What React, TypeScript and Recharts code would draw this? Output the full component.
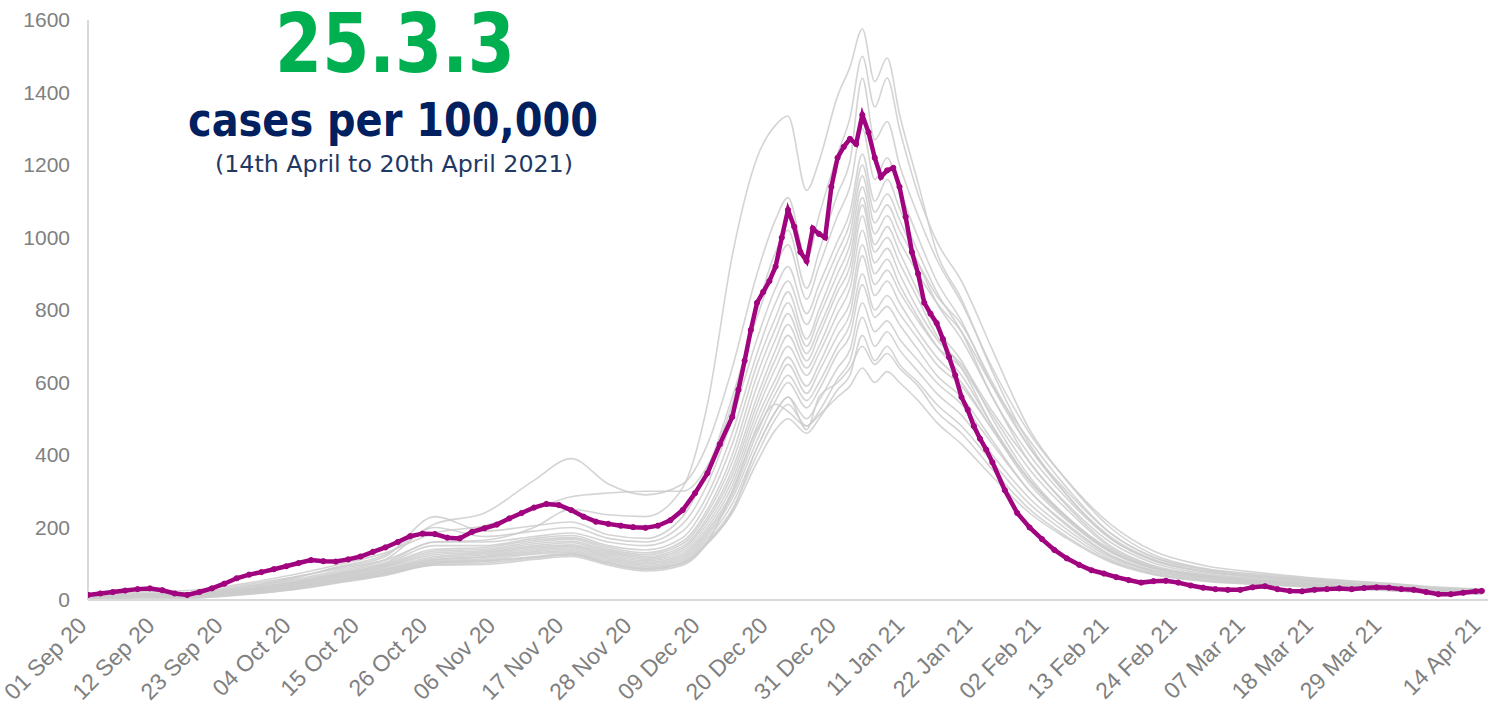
import { LineChart, Line, XAxis, YAxis } from 'recharts';

// tick days counted from 01 Sep 2020
const tickDays = [0, 11, 22, 33, 44, 55, 66, 77, 88, 99, 110, 121, 132, 143, 154, 165, 176, 187, 198, 209, 225];
const tickLabels = [
  '01 Sep 20', '12 Sep 20', '23 Sep 20', '04 Oct 20', '15 Oct 20', '26 Oct 20', '06 Nov 20',
  '17 Nov 20', '28 Nov 20', '09 Dec 20', '20 Dec 20', '31 Dec 20', '11 Jan 21', '22 Jan 21',
  '02 Feb 21', '13 Feb 21', '24 Feb 21', '07 Mar 21', '18 Mar 21', '29 Mar 21', '14 Apr 21',
];
const yTicks = [0, 200, 400, 600, 800, 1000, 1200, 1400, 1600];

// highlighted area
const areaDays = [
  0, 2, 4, 6, 8, 10, 12, 14, 16, 18, 20, 22, 24, 26, 28, 30, 32, 34, 36, 38, 40, 42, 44, 46, 48, 50,
  52, 54, 56, 58, 60, 62, 64, 66, 68, 70, 72, 74, 76, 78, 80, 82, 84, 86, 88, 90, 92, 94, 96, 98, 100,
  102, 104, 105, 106, 107, 108, 109, 110, 111, 112, 113, 114, 115, 116, 117, 118, 119, 120, 121, 122,
  123, 124, 125, 126, 127, 128, 129, 130, 131, 132, 133, 134, 135, 136, 137, 138, 139, 140, 141, 142,
  143, 144, 145, 146, 148, 150, 152, 154, 156, 158, 160, 162, 164, 166, 168, 170, 172, 174, 176, 178,
  180, 182, 184, 186, 188, 190, 192, 194, 196, 198, 200, 202, 204, 206, 208, 210, 212, 214, 216, 218,
  220, 222, 224, 225,
];
const areaRates = [
  14, 18, 22, 26, 30, 32, 27, 18, 14, 22, 32, 45, 60, 70, 77, 85, 93, 102, 110, 107, 106, 112, 120, 133, 145, 160,
  176, 183, 182, 172, 170, 188, 198, 208, 225, 240, 255, 265, 262, 248, 230, 216, 210, 205, 201, 199, 205, 220, 248, 295, 350,
  430, 505, 580, 660, 745, 820, 850, 880, 920, 1000, 1076, 1030, 960, 935, 1025, 1010, 1000, 1140, 1220, 1250,
  1272, 1258, 1338, 1290, 1220, 1167, 1185, 1192, 1140, 1057, 960, 900, 820, 790, 764, 720, 670, 620, 560, 525,
  480, 445, 415, 380, 303, 240, 200, 168, 138, 115, 97, 82, 73, 63, 55, 48, 52, 53, 48, 40,
  34, 30, 28, 28, 35, 38, 30, 25, 24, 28, 30, 32, 30, 33, 35, 34, 30, 28, 22, 16,
  16, 20, 24, 25,
];

// comparison areas, sampled on these days
const otherDays = [0, 8, 16, 24, 32, 40, 48, 56, 64, 72, 78, 84, 90, 96, 100, 104, 108, 111, 113, 116, 118, 121, 123, 125, 127, 129, 131, 134, 137, 141, 146, 152, 158, 165, 172, 180, 190, 200, 210, 218, 225];
const other1 = [10, 16, 18, 38, 60, 85, 110, 160, 165, 200, 250, 235, 230, 310, 540, 950, 1220, 1310, 1335, 1130, 1210, 1390, 1470, 1575, 1430, 1495, 1340, 1150, 960, 830, 630, 430, 290, 170, 110, 80, 62, 50, 40, 30, 27];
const other2 = [8, 14, 16, 32, 55, 90, 125, 210, 240, 330, 390, 320, 290, 320, 430, 640, 900, 1050, 1110, 940, 1060, 1230, 1330, 1500, 1360, 1440, 1300, 1120, 990, 880, 690, 470, 330, 200, 125, 88, 70, 56, 44, 34, 29];
const other3 = [12, 22, 26, 42, 66, 96, 130, 185, 205, 250, 285, 295, 300, 300, 370, 540, 800, 960, 1020, 860, 960, 1120, 1210, 1440, 1270, 1320, 1200, 1060, 940, 820, 640, 460, 330, 210, 135, 96, 74, 58, 46, 36, 30];
const other4 = [9, 18, 20, 34, 58, 88, 120, 230, 190, 205, 215, 180, 170, 230, 360, 560, 780, 920, 980, 830, 920, 1060, 1140, 1300, 1160, 1220, 1130, 1000, 880, 770, 590, 420, 300, 185, 118, 85, 66, 52, 40, 31, 26];
const other5 = [7, 15, 15, 30, 52, 80, 112, 200, 175, 190, 200, 170, 160, 210, 320, 500, 720, 860, 920, 790, 870, 990, 1070, 1230, 1100, 1160, 1080, 960, 850, 740, 560, 400, 280, 170, 108, 78, 62, 48, 38, 28, 24];
const other6 = [8, 13, 14, 27, 48, 76, 104, 160, 160, 175, 185, 160, 150, 190, 290, 460, 680, 820, 880, 760, 840, 960, 1040, 1200, 1070, 1120, 1050, 930, 820, 720, 560, 380, 265, 160, 102, 74, 58, 46, 36, 27, 23];
const other7 = [6, 12, 13, 26, 46, 72, 100, 150, 150, 170, 178, 150, 138, 172, 270, 430, 650, 780, 850, 720, 800, 930, 1010, 1170, 1040, 1090, 1020, 930, 840, 760, 600, 420, 290, 175, 112, 80, 62, 48, 38, 28, 23];
const other8 = [7, 14, 12, 25, 44, 70, 98, 140, 145, 165, 172, 145, 130, 162, 250, 400, 620, 750, 820, 700, 780, 900, 980, 1140, 1010, 1060, 990, 900, 820, 740, 590, 440, 310, 185, 118, 85, 66, 52, 40, 30, 24];
const other9 = [6, 11, 11, 24, 42, 68, 95, 135, 140, 160, 168, 140, 125, 155, 240, 380, 590, 720, 790, 680, 750, 870, 950, 1110, 980, 1030, 960, 850, 750, 660, 500, 340, 230, 140, 90, 68, 54, 42, 33, 25, 22];
const other10 = [7, 12, 11, 23, 41, 66, 92, 130, 136, 155, 162, 136, 120, 148, 228, 360, 560, 690, 760, 660, 730, 850, 920, 1090, 960, 1000, 930, 830, 730, 640, 480, 330, 225, 135, 88, 66, 52, 40, 32, 24, 21];
const other11 = [5, 10, 10, 22, 40, 64, 90, 125, 132, 150, 158, 132, 116, 142, 220, 345, 540, 665, 730, 640, 700, 820, 890, 1060, 930, 970, 900, 800, 720, 650, 520, 380, 260, 150, 95, 70, 55, 42, 34, 25, 21];
const other12 = [6, 11, 10, 21, 38, 62, 86, 120, 128, 146, 152, 128, 112, 136, 210, 330, 520, 640, 700, 620, 680, 790, 860, 1020, 900, 940, 870, 780, 700, 620, 480, 330, 225, 135, 88, 66, 52, 40, 32, 24, 20];
const other13 = [5, 10, 9, 20, 36, 60, 84, 116, 124, 142, 148, 124, 108, 130, 200, 315, 500, 610, 670, 590, 650, 760, 820, 980, 870, 910, 850, 770, 700, 640, 510, 360, 250, 145, 92, 68, 53, 41, 33, 24, 20];
const other14 = [6, 9, 9, 19, 35, 58, 82, 112, 120, 138, 144, 120, 104, 125, 192, 300, 480, 590, 650, 570, 630, 730, 790, 950, 840, 880, 820, 740, 670, 600, 470, 320, 220, 132, 86, 64, 50, 39, 31, 23, 19];
const other15 = [5, 9, 8, 18, 34, 56, 80, 110, 118, 134, 140, 116, 100, 120, 185, 290, 460, 570, 620, 550, 600, 700, 760, 900, 800, 840, 790, 720, 650, 590, 470, 330, 230, 135, 88, 65, 51, 39, 31, 23, 19];
const other16 = [4, 8, 8, 17, 32, 54, 78, 106, 114, 130, 136, 112, 96, 115, 178, 280, 440, 550, 600, 530, 580, 680, 730, 870, 780, 810, 760, 690, 620, 560, 440, 300, 210, 125, 82, 62, 48, 37, 30, 22, 18];
const other17 = [5, 8, 7, 16, 30, 52, 75, 104, 110, 126, 132, 108, 92, 110, 170, 265, 420, 520, 560, 500, 550, 640, 690, 820, 740, 770, 720, 660, 600, 540, 430, 300, 205, 122, 80, 60, 47, 36, 29, 21, 18];
const other18 = [4, 7, 7, 15, 28, 50, 72, 100, 106, 120, 128, 104, 88, 105, 162, 250, 400, 500, 540, 480, 520, 610, 660, 780, 700, 740, 690, 630, 570, 510, 400, 280, 195, 118, 78, 58, 46, 35, 28, 21, 17];
const other19 = [4, 7, 6, 14, 27, 48, 70, 98, 102, 116, 124, 100, 84, 100, 155, 240, 380, 470, 500, 460, 500, 580, 620, 730, 660, 700, 650, 600, 540, 480, 380, 265, 185, 112, 74, 56, 44, 34, 27, 20, 17];
const other20 = [3, 6, 6, 13, 26, 46, 68, 96, 98, 112, 120, 96, 80, 96, 160, 300, 470, 540, 520, 480, 510, 560, 590, 640, 600, 630, 600, 550, 490, 430, 340, 240, 170, 105, 70, 52, 42, 33, 26, 19, 16];
const other21 = [4, 8, 7, 15, 30, 50, 74, 102, 108, 118, 126, 102, 86, 102, 158, 245, 420, 520, 560, 470, 560, 600, 640, 700, 650, 680, 640, 590, 520, 460, 360, 250, 175, 108, 72, 54, 43, 33, 26, 20, 16];

const others = [
  other1, other2, other3, other4, other5, other6, other7, other8, other9, other10, other11,
  other12, other13, other14, other15, other16, other17, other18, other19, other20, other21,
];

const toPoints = (days: number[], vals: number[]) => days.map((day, i) => ({ day, rate: vals[i] }));

const AXIS_GREY = '#808080';
const MAGENTA = '#a0047e';
const AXIS_FONT = "'Liberation Sans', Arial, sans-serif";

const DateTick = ({ x, y, payload }: any) => {
  const idx = tickDays.indexOf(payload.value);
  return (
    <g transform={`translate(${x},${y + 19})`}>
      <text x={0} y={0} transform="rotate(-45)" textAnchor="end" fill={AXIS_GREY} fontSize={23} fontFamily={AXIS_FONT}>
        {tickLabels[idx]}
      </text>
    </g>
  );
};

export default function App() {
  const titleFont = "'DejaVu Sans Condensed', 'DejaVu Sans', sans-serif";
  return (
    <div style={{ position: 'absolute', left: 0, top: 0, width: 1488, height: 706, background: '#fff', overflow: 'hidden' }}>
      <LineChart width={1488} height={706} margin={{ top: 20, right: 0, bottom: 6, left: 28 }}>
        <XAxis
          dataKey="day"
          type="number"
          domain={[0, 226]}
          ticks={tickDays}
          interval={0}
          tick={<DateTick />}
          tickLine={false}
          height={100}
          stroke="#d9d9d9"
          strokeWidth={2}
          allowDataOverflow
        />
        <YAxis
          type="number"
          domain={[0, 1600]}
          ticks={yTicks}
          width={60}
          tickLine={false}
          tickMargin={12}
          stroke="#d9d9d9"
          strokeWidth={2}
          tick={{ fill: AXIS_GREY, fontSize: 21, fontFamily: AXIS_FONT }}
        />
        {others.map((vals, i) => (
          <Line
            key={i}
            data={toPoints(otherDays, vals)}
            dataKey="rate"
            type="monotone"
            stroke="#cdcdcd"
            strokeOpacity={0.85}
            strokeWidth={1.6}
            dot={false}
            isAnimationActive={false}
          />
        ))}
        <Line
          data={toPoints(areaDays, areaRates)}
          dataKey="rate"
          type="linear"
          stroke={MAGENTA}
          strokeWidth={4.5}
          dot={{ r: 2.6, fill: MAGENTA, stroke: MAGENTA, strokeWidth: 1 }}
          isAnimationActive={false}
        />
      </LineChart>
      <svg width={1488} height={706} style={{ position: 'absolute', left: 0, top: 0, pointerEvents: 'none' }}>
        <text x={395} y={72} textAnchor="middle" fontFamily={titleFont} fontWeight="bold" fontSize={82} fill="#00b050" textLength={240} lengthAdjust="spacingAndGlyphs">
          25.3.3
        </text>
        <text x={393} y={136} textAnchor="middle" fontFamily={titleFont} fontWeight="bold" fontSize={46} fill="#002060" textLength={410} lengthAdjust="spacingAndGlyphs">
          cases per 100,000
        </text>
        <text x={394} y={172} textAnchor="middle" fontFamily={titleFont} fontSize={23} fill="#1f3864" textLength={358} lengthAdjust="spacingAndGlyphs">
          (14th April to 20th April 2021)
        </text>
      </svg>
    </div>
  );
}
